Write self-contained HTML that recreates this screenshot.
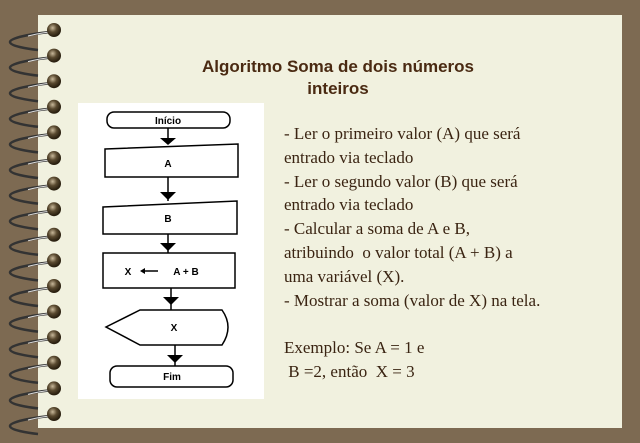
<!DOCTYPE html>
<html><head><meta charset="utf-8"><style>
body{margin:0;width:640px;height:443px;background:#7d6a52;position:relative;overflow:hidden}
#p{position:absolute;left:38px;top:15px;width:584px;height:413px;background:#f1f1df}
.t{position:absolute;font-family:"Liberation Sans",sans-serif;font-weight:bold;color:#4a2a12;font-size:17px;text-align:center;left:38px;width:600px}
#txt{position:absolute;left:284px;top:122px;font-family:"Liberation Serif",serif;font-size:17px;line-height:23.8px;color:#3a2412;white-space:pre}
</style></head><body>
<div id="p"></div>
<div class="t" style="top:57px">Algoritmo Soma de dois números</div>
<div class="t" style="top:79px">inteiros</div>
<div id="txt">- Ler o primeiro valor (A) que será
entrado via teclado
- Ler o segundo valor (B) que será
entrado via teclado
- Calcular a soma de A e B,
atribuindo  o valor total (A + B) a
uma variável (X).
- Mostrar a soma (valor de X) na tela.

Exemplo: Se A = 1 e
 B =2, então  X = 3</div>
<svg width="640" height="443" style="position:absolute;left:0;top:0">
<defs><radialGradient id="g" cx="40%" cy="35%" r="60%"><stop offset="0" stop-color="#c8b89a"/><stop offset="0.5" stop-color="#5a4a30"/><stop offset="1" stop-color="#2a2010"/></radialGradient>
<g id="r"><path d="M50 2 C30 4 10 8 10 12 C10 16 28 19 38 20" fill="none" stroke="#333" stroke-width="2.5"/><path d="M50 2 C40 3 32 5 28 6" stroke="#ddd" stroke-width="1" fill="none"/><circle cx="54" cy="0" r="7" fill="url(#g)"/></g></defs>
<use href="#r" y="30"/><use href="#r" y="55.6"/><use href="#r" y="81.2"/><use href="#r" y="106.8"/>
<use href="#r" y="132.4"/><use href="#r" y="158"/><use href="#r" y="183.6"/><use href="#r" y="209.2"/>
<use href="#r" y="234.8"/><use href="#r" y="260.4"/><use href="#r" y="286"/><use href="#r" y="311.6"/>
<use href="#r" y="337.2"/><use href="#r" y="362.8"/><use href="#r" y="388.4"/><use href="#r" y="414"/>
<rect x="78" y="103" width="186" height="296" fill="#fff"/>
<g fill="none" stroke="#000" stroke-width="1.5">
<rect x="107" y="112" width="123" height="16" rx="7"/>
<path d="M105 149 L238 144 L238 177 L105 177Z"/>
<path d="M103 207 L237 201 L237 234 L103 234Z"/>
<rect x="103" y="253" width="132" height="35"/>
<path d="M140 310 L222 310 Q234 327 222 345 L140 345 L106 327Z"/>
<rect x="110" y="366" width="123" height="21" rx="7"/>
<path d="M168 128V144M168 177V201M168 234V253M171 288V310M175 345V366"/>
<path d="M144 271H158"/>
</g>
<g fill="#000"><path d="M160 138h16l-8 7z"/><path d="M160 192h16l-8 8z"/><path d="M160 243h16l-8 8z"/><path d="M163 297h16l-8 8z"/><path d="M167 355h16l-8 8z"/><path d="M140 271l5-3v6z"/></g>
<g font-family="Liberation Sans,sans-serif" font-weight="bold" font-size="10" text-anchor="middle">
<text x="168" y="124">Início</text><text x="168" y="167">A</text><text x="168" y="222">B</text>
<text x="128" y="275">X</text><text x="186" y="275">A + B</text><text x="174" y="331">X</text><text x="172" y="380">Fim</text></g>
</svg>
</body></html>
